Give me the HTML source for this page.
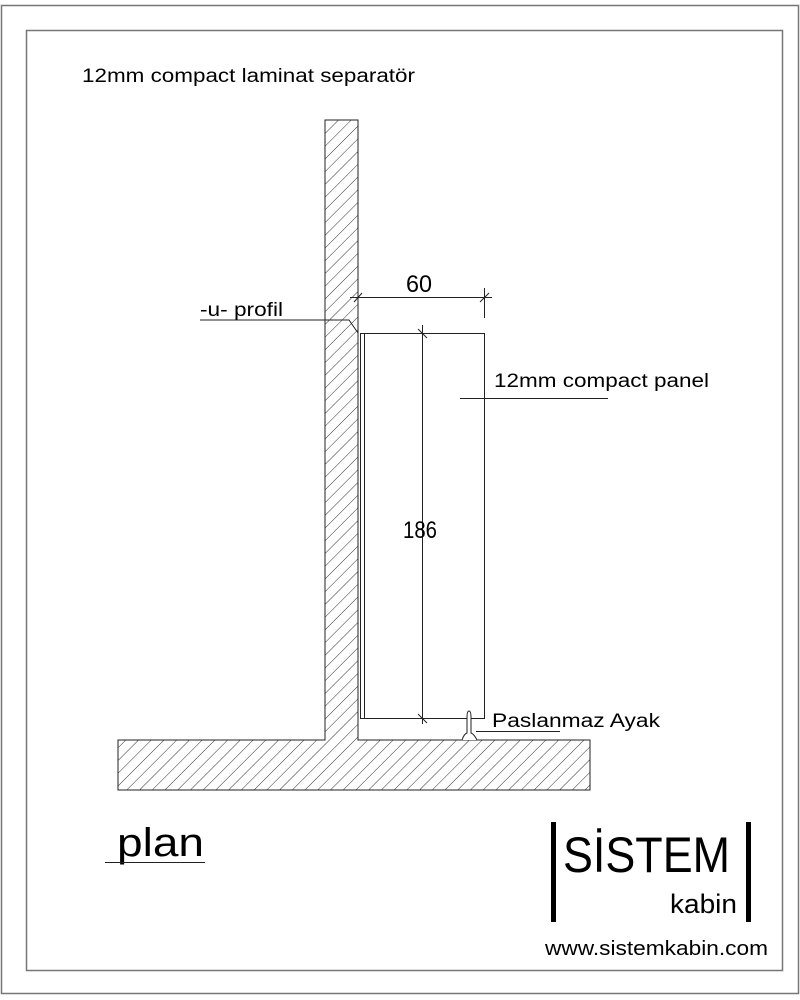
<!DOCTYPE html>
<html><head><style>
html,body{margin:0;padding:0;background:#fff}
svg{display:block}
text{font-family:"Liberation Sans",Arial,sans-serif;fill:#000}
</style></head><body>
<svg width="800" height="1000" viewBox="0 0 800 1000" xmlns="http://www.w3.org/2000/svg">
<defs>
<pattern id="h" patternUnits="userSpaceOnUse" width="9" height="9" patternTransform="rotate(45)">
<line x1="0" y1="0" x2="0" y2="9" stroke="#333" stroke-width="1"/>
</pattern>
</defs>
<rect x="1.5" y="5.5" width="797" height="988" fill="none" stroke="#777" stroke-width="1.5"/>
<rect x="26.5" y="30.5" width="756" height="940" fill="none" stroke="#777" stroke-width="1.5"/>
<text x="82" y="82" font-size="19" textLength="333" lengthAdjust="spacingAndGlyphs">12mm compact laminat separatör</text>
<path d="M325 120 H358 V740 H590 V790 H118 V740 H325 Z" fill="url(#h)" stroke="#222" stroke-width="1"/>
<rect x="360.5" y="333.5" width="124" height="385" fill="#fff" stroke="#222" stroke-width="1"/>
<line x1="364.5" y1="333" x2="364.5" y2="718" stroke="#222"/>
<line x1="422.5" y1="325" x2="422.5" y2="724" stroke="#222"/>
<line x1="418" y1="329" x2="427" y2="338" stroke="#222"/>
<line x1="418" y1="714" x2="427" y2="723" stroke="#222"/>
<text x="403" y="538" font-size="24" textLength="34" lengthAdjust="spacingAndGlyphs">186</text>
<line x1="350" y1="297.5" x2="492" y2="297.5" stroke="#222"/>
<line x1="484.5" y1="288" x2="484.5" y2="318" stroke="#222"/>
<line x1="480" y1="302" x2="489" y2="293" stroke="#222"/>
<line x1="354" y1="302" x2="362" y2="293" stroke="#222"/>
<text x="406" y="292" font-size="24" textLength="26" lengthAdjust="spacingAndGlyphs">60</text>
<polyline points="200,320 349,320 358,333" fill="none" stroke="#222"/>
<text x="200" y="316" font-size="19" textLength="83" lengthAdjust="spacingAndGlyphs">-u- profil</text>
<line x1="460" y1="398.5" x2="608" y2="398.5" stroke="#222"/>
<text x="494" y="387" font-size="19" textLength="215" lengthAdjust="spacingAndGlyphs">12mm compact panel</text>
<line x1="476" y1="731.5" x2="560" y2="731.5" stroke="#222"/>
<text x="492" y="727" font-size="19" textLength="168" lengthAdjust="spacingAndGlyphs">Paslanmaz Ayak</text>
<path d="M462 740 Q464 734 467 733 V717 Q467 711 469 711 Q471 711 471 717 V733 Q474 734 477 740" fill="#fff" stroke="#222"/>
<text x="117" y="856" font-size="40" textLength="87" lengthAdjust="spacingAndGlyphs">plan</text>
<line x1="105" y1="862.5" x2="205" y2="862.5" stroke="#222"/>
<rect x="551" y="822" width="5" height="100" fill="#000"/>
<rect x="746" y="822" width="5" height="100" fill="#000"/>
<text x="563" y="872" font-size="50" textLength="167" lengthAdjust="spacingAndGlyphs">SİSTEM</text>
<text x="670" y="913" font-size="27" textLength="67" lengthAdjust="spacingAndGlyphs">kabin</text>
<text x="545" y="955" font-size="20" textLength="223" lengthAdjust="spacingAndGlyphs">www.sistemkabin.com</text>
</svg>
</body></html>
